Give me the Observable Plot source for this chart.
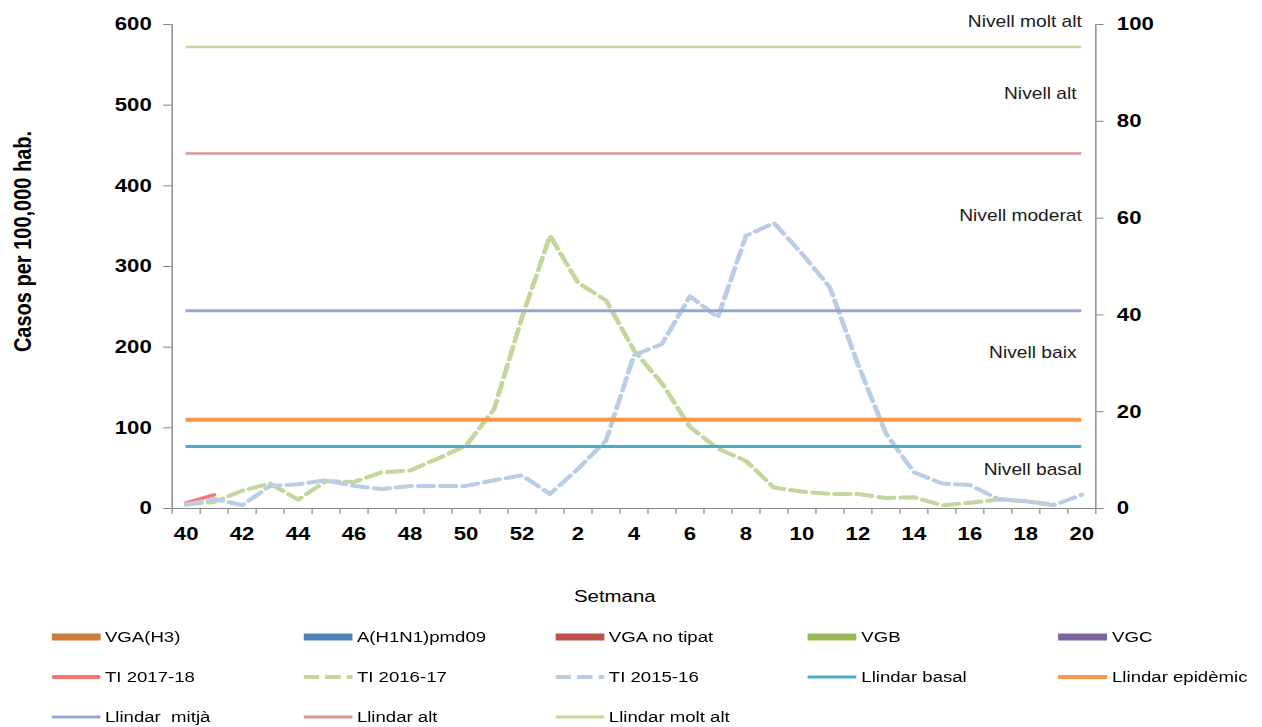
<!DOCTYPE html>
<html>
<head>
<meta charset="utf-8">
<script src="https://cdn.jsdelivr.net/npm/d3@7"></script>
<script src="https://cdn.jsdelivr.net/npm/@observablehq/plot@0.6"></script>
<style>
html,body{margin:0;padding:0;background:#fff;overflow:hidden;}
#wrap{position:relative;width:1052px;height:727px;transform:scaleX(1.1996);transform-origin:0 0;font-family:"Liberation Sans",Arial,sans-serif;}
#legend{position:absolute;left:0;top:0;width:1052px;height:727px;}
.item{position:absolute;display:flex;align-items:center;height:20px;font-size:15.5px;color:#000;white-space:pre;}
.item svg{margin-right:4px;display:block;}
</style>
</head>
<body>
<div id="wrap"><div id="chart"></div><div id="legend"></div></div>
<script>
// ---- data ----
const weeks = ["40","41","42","43","44","45","46","47","48","49","50","51","52",
  "1","2","3","4","5","6","7","8","9","10","11","12","13","14","15","16","17","18","19","20"];
const xTickLabels = ["40","42","44","46","48","50","52","2","4","6","8","10","12","14","16","18","20"];
const leftTicks = [0,100,200,300,400,500,600];
const rightTicks = [0,20,40,60,80,100];
const leftMax = 600, rightMax = 100;

const ti1718 = [7, 17];
const ti1617 = [5, 8, 22, 31, 11, 34, 33, 45, 47, 62, 78, 123, 237, 338, 280, 258, 196, 155, 101, 74, 59, 26, 21, 18, 18, 13, 14, 4, 7, 11, 9, 5];
const ti1516 = [5, 12, 4, 28, 30, 35, 28, 24, 28, 28, 28, 35, 41, 18, 49, 84, 190, 204, 263, 237, 338, 354, 316, 274, 179, 93, 45, 31, 29, 12, 9, 4, 17];

const thresholdNames  = ["Llindar basal","Llindar epidèmic","Llindar mitjà","Llindar alt","Llindar molt alt"];
const thresholdValues = [77, 110, 245, 440, 572];
const thresholdColors = ["#4bacc6","#f79646","#95a7cf","#d99694","#c3d69b"];
const thresholdWidths = [3, 4, 3, 2.5, 2.5];

const levelLabels = ["Nivell molt alt","Nivell alt\u00a0","Nivell moderat","Nivell baix\u00a0","Nivell basal"];
const levelValues = [597, 508, 357, 186, 42];

const legendLabels = ["VGA(H3)","A(H1N1)pmd09","VGA no tipat","VGB","VGC",
  "TI 2017-18","TI 2016-17","TI 2015-16","Llindar basal","Llindar epidèmic",
  "Llindar  mitjà","Llindar alt","Llindar molt alt"];
const legendColors = ["#cd7b38","#4f81bd","#c0504d","#9bbb59","#8064a2",
  "#ff7070","#c3d69b","#b9cde5","#4bacc6","#f79646",
  "#95a7cf","#d99694","#c3d69b"];
const legendKinds = ["bar","bar","bar","bar","bar","solid","dash","dash","line","line2","line","line","line"];

// ---- chart ----
const k = leftMax / rightMax;
const n = weeks.length;
const series = (vals) => vals.map((v, i) => ({i, v}));
const xBoundaries = weeks.map((w, i) => i - 0.5).concat([n - 0.5]);
const xLabelIdx = xTickLabels.map(l => weeks.indexOf(l));
const axisGray = "#868686";

const marks = [
  Plot.line(series(ti1718), {x: "i", y: "v", stroke: "#ff7070", strokeWidth: 3.5, strokeLinecap: "round"}),
  Plot.line(series(ti1617), {x: "i", y: "v", stroke: "#c3d69b", strokeWidth: 4, strokeDasharray: "13,5.5"}),
  Plot.line(series(ti1516), {x: "i", y: "v", stroke: "#b9cde5", strokeWidth: 4, strokeDasharray: "13,5.5"}),
  ...thresholdValues.map((v, j) => Plot.ruleY([{y: v, x1: 0, x2: n - 1}], {y: "y", x1: "x1", x2: "x2", stroke: thresholdColors[j], strokeWidth: thresholdWidths[j]})),
  Plot.text(levelLabels.map((t, j) => ({t, y: levelValues[j], x: n - 1})), {x: "x", y: "y", text: "t", textAnchor: "end", lineAnchor: "bottom", fontSize: 16, fill: "#1a1a1a"}),
  Plot.ruleX([-0.5, n - 0.5], {stroke: axisGray, strokeWidth: 1.2}),
  Plot.ruleY([0], {stroke: axisGray, strokeWidth: 1.2}),
  Plot.axisX(xBoundaries, {tickSize: 6, stroke: axisGray, tickFormat: () => "", label: null}),
  Plot.axisX(xLabelIdx, {tickSize: 0, tickPadding: 18.5, tickFormat: i => weeks[i], fontSize: 18.5, fontWeight: "bold", fill: "#000", label: null}),
  Plot.axisY(leftTicks, {anchor: "left", tickSize: 7, tickPadding: 10, fontSize: 18.5, fontWeight: "bold", stroke: axisGray, fill: "#000", label: null}),
  Plot.axisY(rightTicks.map(v => v * k), {anchor: "right", tickSize: 6, tickPadding: 11.5, tickFormat: v => String(Math.round(v / k)), fontSize: 18.5, fontWeight: "bold", stroke: axisGray, fill: "#000", label: null}),
  Plot.text(["Casos per 100,000 hab."], {text: d => d, frameAnchor: "left", textAnchor: "middle", lineAnchor: "middle", rotate: -90, dx: -124, dy: -25, fontSize: 20, fontWeight: "bold", fill: "#000"}),
  Plot.text(["Setmana"], {text: d => d, frameAnchor: "bottom", textAnchor: "middle", lineAnchor: "middle", dx: -16, dy: 88, fontSize: 17, fill: "#000"})
];

const chart = Plot.plot({
  width: 1052,
  height: 610,
  marginLeft: 143,
  marginRight: 139,
  marginTop: 24,
  marginBottom: 102,
  x: {type: "linear", domain: [-0.5, n - 0.5]},
  y: {domain: [0, leftMax]},
  style: {fontFamily: "'Liberation Sans', Arial, sans-serif", background: "white", overflow: "visible"},
  marks
});
document.getElementById("chart").appendChild(chart);

// ---- legend ----
const legendCols = [42.5, 252.5, 462.5, 673, 882];
const legendRows = [637, 677, 717];
const legend = document.getElementById("legend");
const ns = "http://www.w3.org/2000/svg";
legendLabels.forEach((label, j) => {
  const item = document.createElement("div");
  item.className = "item";
  item.style.left = legendCols[j % 5] + "px";
  item.style.top = (legendRows[Math.floor(j / 5)] - 10) + "px";
  const sw = document.createElementNS(ns, "svg");
  sw.setAttribute("width", 41);
  sw.setAttribute("height", 10);
  const kind = legendKinds[j];
  if (kind === "bar") {
    const r = document.createElementNS(ns, "rect");
    r.setAttribute("x", 0); r.setAttribute("y", 1.5);
    r.setAttribute("width", 41); r.setAttribute("height", 7);
    r.setAttribute("fill", legendColors[j]);
    sw.appendChild(r);
  } else {
    const l = document.createElementNS(ns, "line");
    l.setAttribute("x1", kind === "solid" ? 2 : 0); l.setAttribute("x2", kind === "solid" ? 39 : 41);
    l.setAttribute("y1", 5); l.setAttribute("y2", 5);
    l.setAttribute("stroke", legendColors[j]);
    l.setAttribute("stroke-width", kind === "line" ? 3 : 4);
    if (kind === "solid") l.setAttribute("stroke-linecap", "round");
    if (kind === "dash") l.setAttribute("stroke-dasharray", "13,5");
    sw.appendChild(l);
  }
  item.appendChild(sw);
  const span = document.createElement("span");
  span.textContent = label;
  item.appendChild(span);
  legend.appendChild(item);
});
</script>
</body>
</html>
